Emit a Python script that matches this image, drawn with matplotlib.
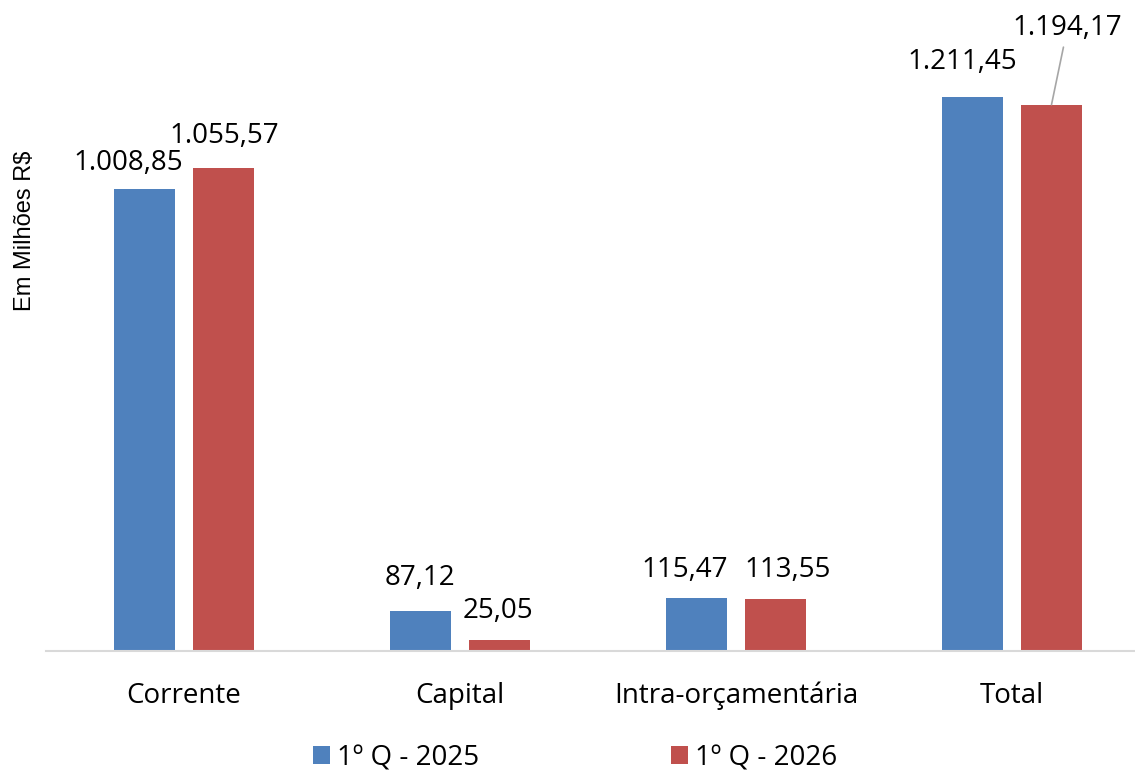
import numpy as np
import matplotlib
matplotlib.use('Agg')
import matplotlib.pyplot as plt

categories = ["Corrente", "Capital", "Intra-orçamentária", "Total"]
series_names = ["1º Q - 2025", "1º Q - 2026"]
values_2025 = [1008.85, 87.12, 115.47, 1211.45]
values_2026 = [1055.57, 25.05, 113.55, 1194.17]
labels_2025 = ["1.008,85", "87,12", "115,47", "1.211,45"]
labels_2026 = ["1.055,57", "25,05", "113,55", "1.194,17"]

BLUE = "#4f81bd"
RED = "#c0504d"
FAM = "Open Sans"
FS = 20

# label offsets in pixels (dx, dy) from the bar top
offs_2025 = [(-16, 26), (-1, 33), (-12, 28), (-10, 35)]
offs_2026 = [(1, 32), (-2, 29), (12, 29), (16, 77)]

W, H = 1135, 772
fig = plt.figure(figsize=(W/100, H/100), dpi=100)
left = 46/W
bottom = 1 - 651/H
ax = fig.add_axes([left, bottom, 1 - left, 1 - bottom])

x = np.arange(len(categories))
bw = 61/276
off = 39.5/276
b1 = ax.bar(x - off, values_2025, bw, color=BLUE, label=series_names[0])
b2 = ax.bar(x + off, values_2026, bw, color=RED, label=series_names[1])

ax.set_xlim(-0.5, -0.5 + (W - 46)/276)
ax.set_ylim(0, 651/0.4575)

for s in ["top", "right", "left"]:
    ax.spines[s].set_visible(False)
ax.spines["bottom"].set_color("#d9d9d9")
ax.spines["bottom"].set_linewidth(1.5)
ax.set_yticks([])
ax.set_xticks(x)
ax.set_xticklabels(categories, fontsize=FS, family=FAM)
ax.tick_params(axis="x", length=0, pad=22)

font = dict(fontsize=FS, family=FAM, ha="center", va="center", color="black")
for i in range(len(categories)):
    dx, dy = offs_2025[i]
    ax.annotate(labels_2025[i], (x[i] - off, values_2025[i]), xytext=(dx, dy),
                textcoords="offset pixels", **font)
    dx, dy = offs_2026[i]
    if i == 3:
        ax.annotate(labels_2026[i], (x[i] + off, values_2026[i]), xytext=(dx, dy),
                    textcoords="offset pixels",
                    arrowprops=dict(arrowstyle="-", color="#a6a6a6", lw=1.2,
                                    shrinkA=2, shrinkB=0), **font)
    else:
        ax.annotate(labels_2026[i], (x[i] + off, values_2026[i]), xytext=(dx, dy),
                    textcoords="offset pixels", **font)

fig.text(25/W, 1 - 231/H, "Em Milhões R$", rotation=90, ha="center", va="center",
         fontsize=17, family="Liberation Sans")

leg = fig.legend(handles=[b1, b2], loc="center", bbox_to_anchor=(575/W, 1 - 758/H),
                 ncol=2, frameon=False, prop={"family": FAM, "size": 20},
                 handlelength=0.61, handleheight=0.61, handletextpad=0.25, columnspacing=6.9)

fig.savefig("out.png", dpi=100)
